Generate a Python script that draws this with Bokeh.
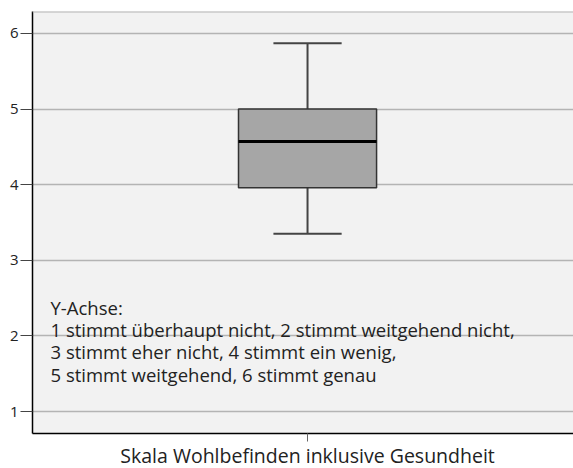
from bokeh.plotting import figure
from bokeh.models import Range1d, Label, Span, FixedTicker
from bokeh.embed import file_html
from bokeh.resources import INLINE

# Data
category = "Skala Wohlbefinden inklusive Gesundheit"
whisker_low = 3.35
q1 = 3.96
median = 4.57
q3 = 5.0
whisker_high = 5.87
y_ticks = [1, 2, 3, 4, 5, 6]
note_lines = [
    "Y-Achse:",
    "1 stimmt überhaupt nicht, 2 stimmt weitgehend nicht,",
    "3 stimmt eher nicht, 4 stimmt ein wenig,",
    "5 stimmt weitgehend, 6 stimmt genau",
]

FONT = "Open Sans"

p = figure(frame_width=541, frame_height=422,
           min_border_left=32, min_border_right=0, min_border_top=11, min_border_bottom=35,
           x_range=Range1d(-1.0, 0.967), y_range=Range1d(0.709, 6.291),
           output_backend="svg", toolbar_location=None, tools="")

p.background_fill_color = "#f2f2f2"
p.border_fill_color = "white"
p.outline_line_color = None

# grid
p.xgrid.grid_line_color = None
p.ygrid.grid_line_color = "#b4b4b4"
p.ygrid.grid_line_width = 1.5

# top frame line
p.add_layout(Span(location=6.291, dimension="width", line_color="#b4b4b4", line_width=2))

# y axis
p.yaxis.ticker = FixedTicker(ticks=y_ticks)
p.yaxis.axis_line_color = "black"
p.yaxis.axis_line_width = 1.5
p.yaxis.major_tick_out = 12
p.yaxis.major_tick_in = 0
p.yaxis.major_tick_line_color = "#444444"
p.yaxis.minor_tick_line_color = None
p.yaxis.major_label_text_font = FONT
p.yaxis.major_label_text_font_size = "15px"
p.yaxis.major_label_text_color = "#222222"
p.yaxis.major_label_standoff = 2

# x axis
p.xaxis.ticker = FixedTicker(ticks=[0])
p.xaxis.major_label_overrides = {0: category}
p.xaxis.axis_line_color = "black"
p.xaxis.axis_line_width = 1.5
p.xaxis.major_tick_out = 8
p.xaxis.major_tick_in = 0
p.xaxis.major_tick_line_color = "#666666"
p.xaxis.minor_tick_line_color = None
p.xaxis.major_label_text_font = FONT
p.xaxis.major_label_text_font_size = "19.5px"
p.xaxis.major_label_text_color = "#222222"
p.xaxis.major_label_standoff = 0

# box plot
box_half = 0.251
cap_half = 0.124
p.segment(x0=[0, 0], y0=[q3, q1], x1=[0, 0], y1=[whisker_high, whisker_low],
          line_color="#444444", line_width=2)
p.segment(x0=[-cap_half, -cap_half], y0=[whisker_high, whisker_low],
          x1=[cap_half, cap_half], y1=[whisker_high, whisker_low],
          line_color="#444444", line_width=2)
p.quad(left=[-box_half], right=[box_half], bottom=[q1], top=[q3],
       fill_color="#a6a6a6", line_color="#333333", line_width=1.5)
p.segment(x0=[-box_half], y0=[median], x1=[box_half], y1=[median],
          line_color="black", line_width=3)

# note text
for i, line in enumerate(note_lines):
    p.add_layout(Label(x=18, y=422 - 296 - i * 22.2, x_units="screen", y_units="screen",
                       text=line, text_font=FONT, text_font_size="18.5px",
                       text_color="#222222", text_baseline="alphabetic"))

open("out.html", "w").write(file_html(p, INLINE))
